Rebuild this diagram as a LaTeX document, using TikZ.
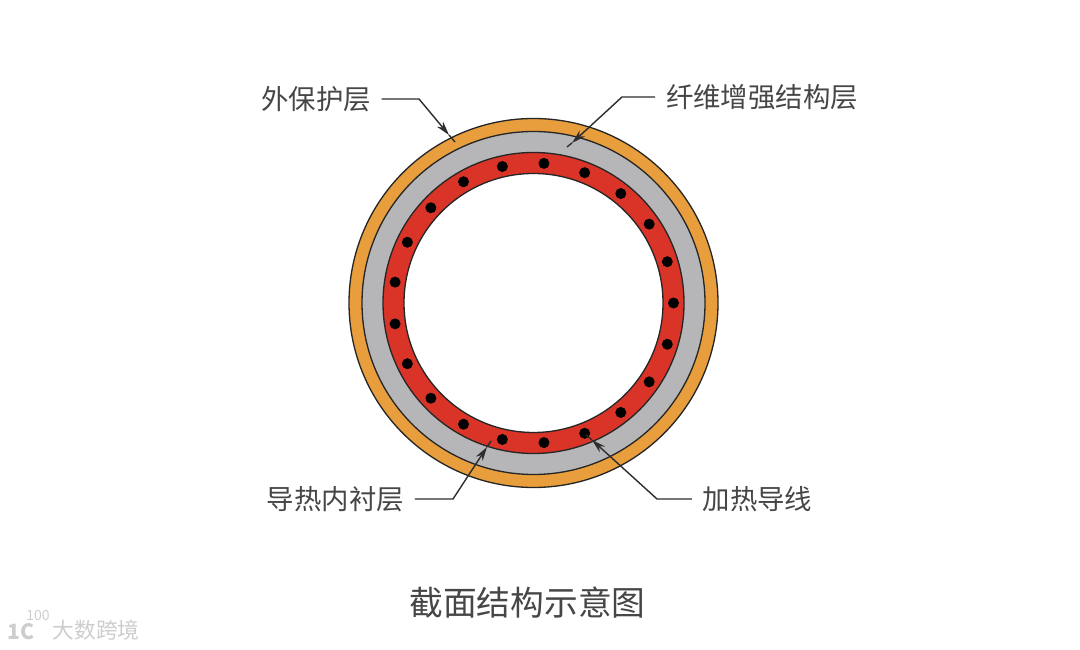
\documentclass[tikz,border=0pt]{standalone}
\usepackage{fontspec}
\usepackage{xcolor}
\usetikzlibrary{arrows.meta}
\newfontfamily\cjk{Noto Sans CJK SC}
\definecolor{jacket}{RGB}{232,158,60}
\definecolor{fibre}{RGB}{182,182,184}
\definecolor{liner}{RGB}{218,52,40}
\definecolor{leadc}{RGB}{45,45,45}
\definecolor{txtc}{RGB}{70,70,70}
\definecolor{markc}{RGB}{205,205,205}

\begin{document}
\begin{tikzpicture}[
    >={Stealth[length=8pt,width=4.5pt]},
    ring/.style={circle,draw=black!85,line width=0.75pt,fill=#1,inner sep=0pt},
    leader/.style={line width=0.8pt,leadc},
    lbl/.style={font=\cjk\fontsize{15.6}{18}\selectfont,text=txtc,inner sep=6pt}
  ]
  \useasboundingbox (0,0) rectangle (21.6,13);
  % rings
  \node[ring=jacket,minimum size=7.38cm] (outer) at (10.67,6.94) {};
  \node[ring=fibre, minimum size=6.86cm] (fib)   at (10.67,6.94) {};
  \node[ring=liner, minimum size=6.02cm] (lin)   at (10.67,6.94) {};
  \node[ring=white, minimum size=5.18cm] (bore)  at (10.67,6.94) {};
  % heating wires
  \foreach \k in {0,...,20}
    \fill[black] (bore.center) ++(\k*360/21:2.80) circle (0.11);
  % labels
  \node[lbl] (lout)  at (6.32,11.02) {外保护层};
  \node[lbl] (lfib)  at (15.24,11.06) {纤维增强结构层};
  \node[lbl] (llin)  at (6.71,3.02)  {导热内衬层};
  \node[lbl] (lwire) at (15.15,3.02) {加热导线};
  \node[font=\cjk\fontsize{19.2}{22}\selectfont,text=txtc] (cap) at (10.55,0.94) {截面结构示意图};
  % leader lines
  \coordinate (outb) at (8.38,11.02);  \coordinate (outt) at (8.98,10.30);  \coordinate (oute) at (9.10,10.16);
  \coordinate (fibb) at (12.44,11.06); \coordinate (fibt) at (11.44,10.14); \coordinate (fibe) at (11.34,10.06);
  \coordinate (linb) at (9.06,3.02);   \coordinate (lint) at (9.74,4.06);   \coordinate (line) at (9.82,4.18);
  \coordinate (wirb) at (13.14,3.02);  \coordinate (wirt) at (11.84,4.20);  \coordinate (wire) at (11.72,4.30);
  \draw[leader,->] (lout.east)  -- (outb) -- (outt);
  \draw[leader]    (outt) -- (oute);
  \draw[leader,->] (lfib.west)  -- (fibb) -- (fibt);
  \draw[leader]    (fibt) -- (fibe);
  \draw[leader,->] (llin.east)  -- (linb) -- (lint);
  \draw[leader]    (lint) -- (line);
  \draw[leader,->] (lwire.west) -- (wirb) -- (wirt);
  \draw[leader]    (wirt) -- (wire);
  % watermark
  \node[font=\cjk\fontsize{12.4}{14}\selectfont,text=markc,inner sep=0pt] (mark) at (1.92,0.40) {大数跨境};
  \node[font=\cjk\bfseries\fontsize{12}{13}\selectfont,text=markc,inner sep=0pt] (mlogo) at (0.42,0.36) {1C};
  \node[font=\cjk\fontsize{8}{9}\selectfont,text=markc,inner sep=0pt] (mhund) at (0.76,0.70) {100};
\end{tikzpicture}
\end{document}
